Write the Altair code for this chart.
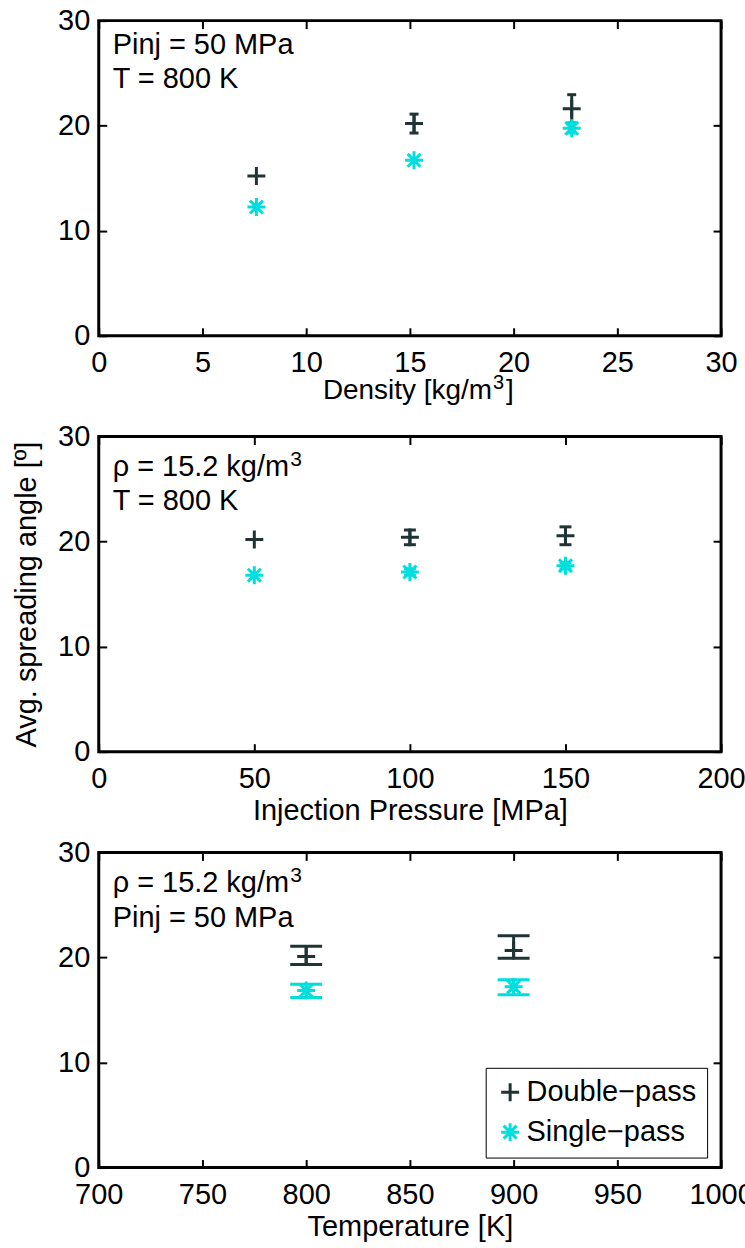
import altair as alt
import pandas as pd

# ---------------- data ----------------
SERIES = ["Double−pass", "Single−pass"]

# Panel 1: density
dens_x = [7.6, 15.2, 22.8]
dens_double = [15.2, 20.2, 21.6]
dens_double_lo = [15.2, 19.3, 20.25]
dens_double_hi = [15.2, 21.1, 22.95]
dens_single = [12.25, 16.7, 19.75]
dens_single_lo = [12.25, 16.7, 19.3]
dens_single_hi = [12.25, 16.7, 20.2]
dens_ticks = [0, 5, 10, 15, 20, 25, 30]

# Panel 2: injection pressure
pinj_x = [50, 100, 150]
pinj_double = [20.2, 20.4, 20.55]
pinj_double_lo = [20.2, 19.7, 19.7]
pinj_double_hi = [20.2, 21.1, 21.4]
pinj_single = [16.8, 17.1, 17.7]
pinj_single_lo = [16.8, 16.8, 17.4]
pinj_single_hi = [16.8, 17.4, 18.0]
pinj_ticks = [0, 50, 100, 150, 200]

# Panel 3: temperature
temp_x = [800, 900]
temp_double = [20.1, 20.65]
temp_double_lo = [19.33, 19.93]
temp_double_hi = [21.07, 22.07]
temp_single = [16.85, 17.2]
temp_single_lo = [16.18, 16.46]
temp_single_hi = [17.44, 17.88]
temp_ticks = [700, 750, 800, 850, 900, 950, 1000]

y_ticks = [0, 10, 20, 30]

ann1 = ["Pinj = 50 MPa", "T = 800 K"]
ann2 = ["ρ = 15.2 kg/m", "T = 800 K"]
ann3 = ["ρ = 15.2 kg/m", "Pinj = 50 MPa"]
xtitle1 = ["Density [kg/m", "3", "]"]

# ---------------- style ----------------
COLORS = ["#1f3434", "#00dede"]
CROSS = "M-1,0L1,0M0,-1L0,1"
STAR = "M0,-1L0,1M-1,0L1,0M-0.72,-0.72L0.72,0.72M-0.72,0.72L0.72,-0.72"
W, H = 624, 316
FONT = "Liberation Sans"
FS = 29
SUPFS = 21
TFS1 = 28      # font size of the first panel's custom x title
TSUP1 = 20
TK = 8


def long_df(x, dbl, dlo, dhi, sgl, slo, shi):
    rows = []
    for i, xv in enumerate(x):
        rows.append(dict(x=xv, val=dbl[i], lo=dlo[i], hi=dhi[i], series=SERIES[0]))
    for i, xv in enumerate(x):
        rows.append(dict(x=xv, val=sgl[i], lo=slo[i], hi=shi[i], series=SERIES[1]))
    return pd.DataFrame(rows)


def axis(orient, values, labels=True, title=None, fmt="d", tpad=3):
    kw = dict(orient=orient, values=values, offset=-TK, tickSize=TK, tickWidth=2,
              tickColor="black", domain=False, grid=False, labels=labels,
              labelFont=FONT, labelFontSize=FS, labelColor="black",
              labelFlush=False, labelOverlap=False, labelBound=False,
              format=fmt, minExtent=0)
    if orient in ("bottom", "top"):
        kw["labelPadding"] = 13
    else:
        kw["labelPadding"] = 9
    if title is not None:
        kw.update(title=title, titleFont=FONT, titleFontSize=FS,
                  titleFontWeight="normal", titleColor="black", titlePadding=tpad)
    else:
        kw["title"] = None
    return alt.Axis(**kw)


def text_layer(t, x, y, size):
    return alt.Chart(pd.DataFrame({"t": [t]})).mark_text(
        align="left", baseline="alphabetic", font=FONT, fontSize=size,
        color="black").encode(x=alt.value(x), y=alt.value(y), text="t:N")


def panel(df, xdom, xticks, xtitle, ytitle, cap, ann, base_y, sup, legend,
          custom_xtitle=False):
    xs = alt.Scale(domain=xdom, nice=False, zero=False)
    ys = alt.Scale(domain=[0, 30], nice=False, zero=False)
    cs = alt.Scale(domain=SERIES, range=COLORS)
    ss = alt.Scale(domain=SERIES, range=[CROSS, STAR])
    base = alt.Chart(df)

    layers = []
    for i, s in enumerate(SERIES):
        err = base.transform_filter(f"datum.series == '{s}' && datum.hi > datum.lo")
        if i == 0:
            xa = axis("top", xticks, labels=False)
            ya = axis("right", y_ticks, labels=False)
        else:
            xa = None
            ya = None
        layers.append(err.mark_rule(strokeWidth=3, color=COLORS[i]).encode(
            x=alt.X("x:Q", scale=xs, axis=xa),
            y=alt.Y("lo:Q", scale=ys, axis=ya),
            y2="hi:Q",
        ))
        for fld in ("lo", "hi"):
            layers.append(err.mark_tick(orient="horizontal", size=cap, thickness=3,
                                        color=COLORS[i], opacity=1).encode(
                x=alt.X("x:Q", scale=xs, axis=None),
                y=alt.Y(f"{fld}:Q", scale=ys, axis=None),
            ))

    if legend:
        leg = alt.Legend(orient="none", legendX=388, legendY=216, title=None,
                         labelFont=FONT, labelFontSize=FS, labelColor="black",
                         labelLimit=400,
                         symbolSize=324, symbolStrokeWidth=3, strokeColor="black",
                         fillColor="white", padding=10, rowPadding=9,
                         labelOffset=2, symbolOffset=0)
        color = alt.Color("series:N", scale=cs, legend=leg)
        shape = alt.Shape("series:N", scale=ss, legend=leg)
    else:
        color = alt.Color("series:N", scale=cs, legend=None)
        shape = alt.Shape("series:N", scale=ss, legend=None)
    pts = base.mark_point(filled=False, size=324, strokeWidth=3, opacity=1).encode(
        x=alt.X("x:Q", scale=xs, axis=axis("bottom", xticks, title=xtitle)),
        y=alt.Y("val:Q", scale=ys, axis=axis("left", y_ticks, title=ytitle, tpad=16)),
        color=color,
        shape=shape,
    )
    layers.append(pts)

    for i, t in enumerate(ann):
        layers.append(text_layer(t, 14, base_y[i], FS))
    if sup:
        layers.append(text_layer("3", 192, base_y[0] - 10, SUPFS))

    if custom_xtitle:
        w0 = 6.057 * TFS1
        w1 = 0.556 * TSUP1
        w2 = 0.278 * TFS1
        x0 = W / 2 + 7 - (w0 + w1 + w2) / 2
        by = H + 63
        layers.append(text_layer(xtitle1[0], x0, by, TFS1))
        layers.append(text_layer(xtitle1[1], x0 + w0 + 1, by - 10, TSUP1))
        layers.append(text_layer(xtitle1[2], x0 + w0 + w1 + 3, by, TFS1))

    return alt.layer(*layers).properties(width=W, height=H)


df1 = long_df(dens_x, dens_double, dens_double_lo, dens_double_hi,
              dens_single, dens_single_lo, dens_single_hi)
df2 = long_df(pinj_x, pinj_double, pinj_double_lo, pinj_double_hi,
              pinj_single, pinj_single_lo, pinj_single_hi)
df3 = long_df(temp_x, temp_double, temp_double_lo, temp_double_hi,
              temp_single, temp_single_lo, temp_single_hi)

p1 = panel(df1, [0, 30], dens_ticks, None, None, 9, ann1, [33, 68], False, False,
           custom_xtitle=True)
p2 = panel(df2, [0, 200], pinj_ticks, "Injection Pressure [MPa]",
           "Avg. spreading angle [º]", 12, ann2, [40, 74], True, False)
p3 = panel(df3, [700, 1000], temp_ticks, "Temperature [K]", None, 32, ann3,
           [40, 75], True, True)

chart = alt.vconcat(p1, p2, p3, spacing=101, bounds="flush").resolve_scale(
    color="independent", shape="independent"
).configure(
    font=FONT, background="white",
    padding={"left": 11, "top": 3, "right": -10, "bottom": 5},
    view=alt.ViewConfig(stroke="black", strokeWidth=3),
)

chart.save("out.html", embed_options={"renderer": "svg", "actions": False})
